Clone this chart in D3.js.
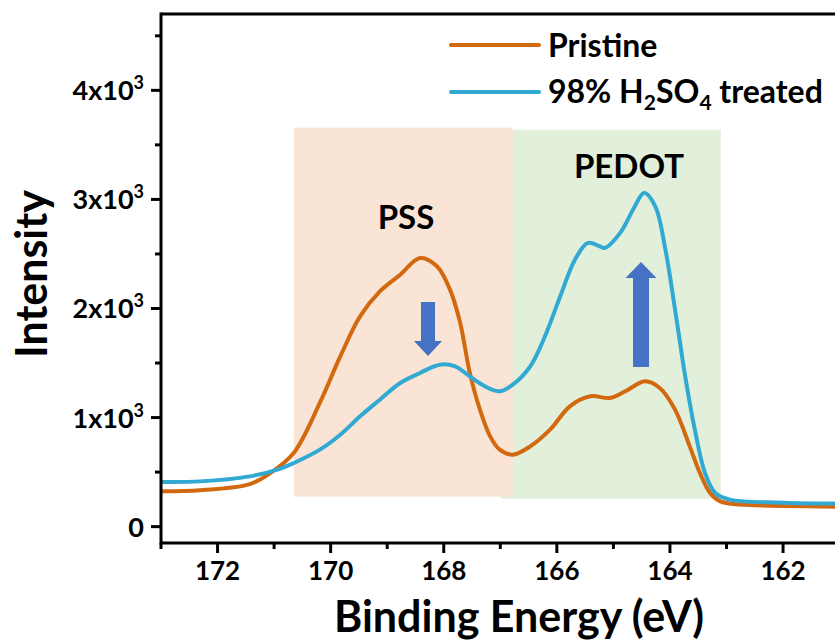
<!DOCTYPE html>
<html><head><meta charset="utf-8">
<script src="https://cdn.jsdelivr.net/npm/d3@7"></script>
<style>body{margin:0;background:#fff;} svg{display:block;} text{font-family:Lato,"Open Sans",sans-serif;font-weight:bold;fill:#000;}</style>
</head><body>
<svg id="c" width="835" height="640"></svg>
<script>
// ---- data ----
const energyPristine = [173, 172.31, 171.43, 171.07, 170.65, 170.19, 169.83, 169.48, 169.13, 168.77, 168.42, 168.12, 167.89, 167.71, 167.54, 167.36, 167.18, 167.01, 166.78, 166.47, 166.12, 165.77, 165.41, 165.06, 164.79, 164.44, 164.18, 163.91, 163.65, 163.47, 163.29, 163.11, 162.76, 162.0, 161.0];
const pristine = [324, 333, 390, 490, 678, 1137, 1561, 1928, 2157, 2310, 2463, 2387, 2173, 1870, 1412, 1073, 828, 706, 660, 736, 889, 1103, 1195, 1180, 1241, 1332, 1271, 1073, 736, 492, 309, 232, 202, 190, 183];
const energyTreated = [173, 172.31, 171.43, 170.9, 170.65, 170.19, 169.83, 169.48, 169.13, 168.77, 168.42, 168.07, 167.8, 167.54, 167.27, 167.01, 166.78, 166.47, 166.21, 165.94, 165.68, 165.45, 165.24, 165.15, 164.88, 164.62, 164.46, 164.26, 164.08, 163.91, 163.73, 163.56, 163.38, 163.2, 162.94, 162.0, 161.0];
const treated = [410, 415, 461, 530, 584, 706, 843, 1011, 1164, 1317, 1409, 1485, 1470, 1378, 1286, 1241, 1302, 1470, 1745, 2112, 2448, 2601, 2570, 2555, 2693, 2937, 3060, 2937, 2540, 1990, 1378, 889, 492, 309, 248, 220, 211];
const seriesNames = ["Pristine", "98% H2SO4 treated"];
const xTicks = [172, 170, 168, 166, 164, 162];
const yTicks = [0, 1000, 2000, 3000, 4000];
const regionNames = ["PSS", "PEDOT"];
const regionX = [[170.65, 166.78], [166.99, 163.1]];
const regionY = [[275, 3658], [257, 3640]];

// ---- layout ----
const svg = d3.select("#c");
const pLeft = 161, pTop = 14, pBottom = 543;
const x = d3.scaleLinear().domain([173, 161]).range([pLeft, pLeft + 12 * 56.55]);
const y = d3.scaleLinear().domain([-150, 4700]).range([pBottom, pTop]);
const orange = "#D2690F", blue = "#31A9D2";

svg.append("defs").append("clipPath").attr("id", "clip")
  .append("rect").attr("x", pLeft).attr("y", pTop).attr("width", 835 - pLeft).attr("height", pBottom - pTop);

// shaded regions (green first, pink on top)
const regionFill = ["#FAE4D6", "#E2EFDA"];
[1, 0].forEach(i => {
  svg.append("rect")
    .attr("x", x(regionX[i][0])).attr("width", x(regionX[i][1]) - x(regionX[i][0]))
    .attr("y", y(regionY[i][1])).attr("height", y(regionY[i][0]) - y(regionY[i][1]))
    .attr("fill", regionFill[i]);
});

// lines
const line = (xs) => d3.line().x((d, i) => x(xs[i])).y(d => y(d)).curve(d3.curveCatmullRom.alpha(0.5));
const g = svg.append("g").attr("clip-path", "url(#clip)");
g.append("path").datum(pristine).attr("d", line(energyPristine)).attr("fill", "none").attr("stroke", orange).attr("stroke-width", 4);
g.append("path").datum(treated).attr("d", line(energyTreated)).attr("fill", "none").attr("stroke", blue).attr("stroke-width", 4);

// axes
const xMinor = d3.range(173, 160.5, -1);
svg.append("g").attr("transform", `translate(0,${pBottom})`)
  .selectAll("line").data(xMinor).join("line")
  .attr("x1", d => x(d)).attr("x2", d => x(d)).attr("y1", 0)
  .attr("y2", d => xTicks.includes(d) ? 10 : 6).attr("stroke", "#000").attr("stroke-width", 3);
svg.append("g").selectAll("text").data(xTicks).join("text")
  .attr("x", d => x(d)).attr("y", 580).attr("text-anchor", "middle").attr("font-size", 26).text(d => d);

const yMinor = d3.range(0, 4701, 500);
svg.append("g").selectAll("line").data(yMinor).join("line")
  .attr("x1", d => yTicks.includes(d) ? pLeft - 10 : pLeft - 6).attr("x2", pLeft)
  .attr("y1", d => y(d)).attr("y2", d => y(d)).attr("stroke", "#000").attr("stroke-width", 3);
const yl = svg.append("g").selectAll("text").data(yTicks).join("text")
  .attr("x", 144).attr("y", d => y(d) + 10).attr("text-anchor", "end").attr("font-size", 27);
yl.each(function(d) {
  const t = d3.select(this);
  if (d === 0) { t.text("0"); return; }
  t.append("tspan").text((d / 1000) + "x10");
  t.append("tspan").attr("dy", -11).attr("font-size", 18).text("3");
});

// frame lines
svg.append("line").attr("x1", pLeft).attr("x2", pLeft).attr("y1", pTop - 1.5).attr("y2", pBottom + 1.5).attr("stroke", "#000").attr("stroke-width", 3);
svg.append("line").attr("x1", pLeft).attr("x2", 835).attr("y1", pBottom).attr("y2", pBottom).attr("stroke", "#000").attr("stroke-width", 3);
svg.append("line").attr("x1", pLeft).attr("x2", 835).attr("y1", pTop).attr("y2", pTop).attr("stroke", "#000").attr("stroke-width", 3);

// axis titles
svg.append("text").attr("x", 519).attr("y", 632).attr("text-anchor", "middle").attr("font-size", 43).text("Binding Energy (eV)");
svg.append("text").attr("transform", "translate(47,274) rotate(-90)").attr("text-anchor", "middle").attr("font-size", 43).text("Intensity");

// region labels
svg.append("text").attr("x", 406).attr("y", 229).attr("text-anchor", "middle").attr("font-size", 33).text(regionNames[0]);
svg.append("text").attr("x", 629).attr("y", 178).attr("text-anchor", "middle").attr("font-size", 33).text(regionNames[1]);

// arrows
const arrowColor = "#4472C4";
function arrow(cx, yTail, yTip, shaftW, headW, headL) {
  const dir = yTip > yTail ? 1 : -1;
  const yh = yTip - dir * headL;
  const pts = [[cx - shaftW / 2, yTail], [cx + shaftW / 2, yTail], [cx + shaftW / 2, yh], [cx + headW / 2, yh],
    [cx, yTip], [cx - headW / 2, yh], [cx - shaftW / 2, yh]];
  svg.append("polygon").attr("points", pts.map(p => p.join(",")).join(" ")).attr("fill", arrowColor);
}
arrow(428, 302, 356, 14, 28, 15);
arrow(641, 367, 262, 16, 31, 16);

// legend
const leg = svg.append("g");
[[orange, 45], [blue, 92]].forEach(([c, ly]) => {
  leg.append("line").attr("x1", 451).attr("x2", 539).attr("y1", ly).attr("y2", ly).attr("stroke", c).attr("stroke-width", 4).attr("stroke-linecap", "round");
});
leg.append("text").attr("x", 548).attr("y", 57).attr("font-size", 32).text(seriesNames[0]);
const t2 = leg.append("text").attr("x", 548).attr("y", 103).attr("font-size", 32);
t2.append("tspan").text("98% H");
t2.append("tspan").attr("dy", 7).attr("font-size", 21).text("2");
t2.append("tspan").attr("dy", -7).text("SO");
t2.append("tspan").attr("dy", 7).attr("font-size", 21).text("4");
t2.append("tspan").attr("dy", -7).text(" treated");
</script>
</body></html>
